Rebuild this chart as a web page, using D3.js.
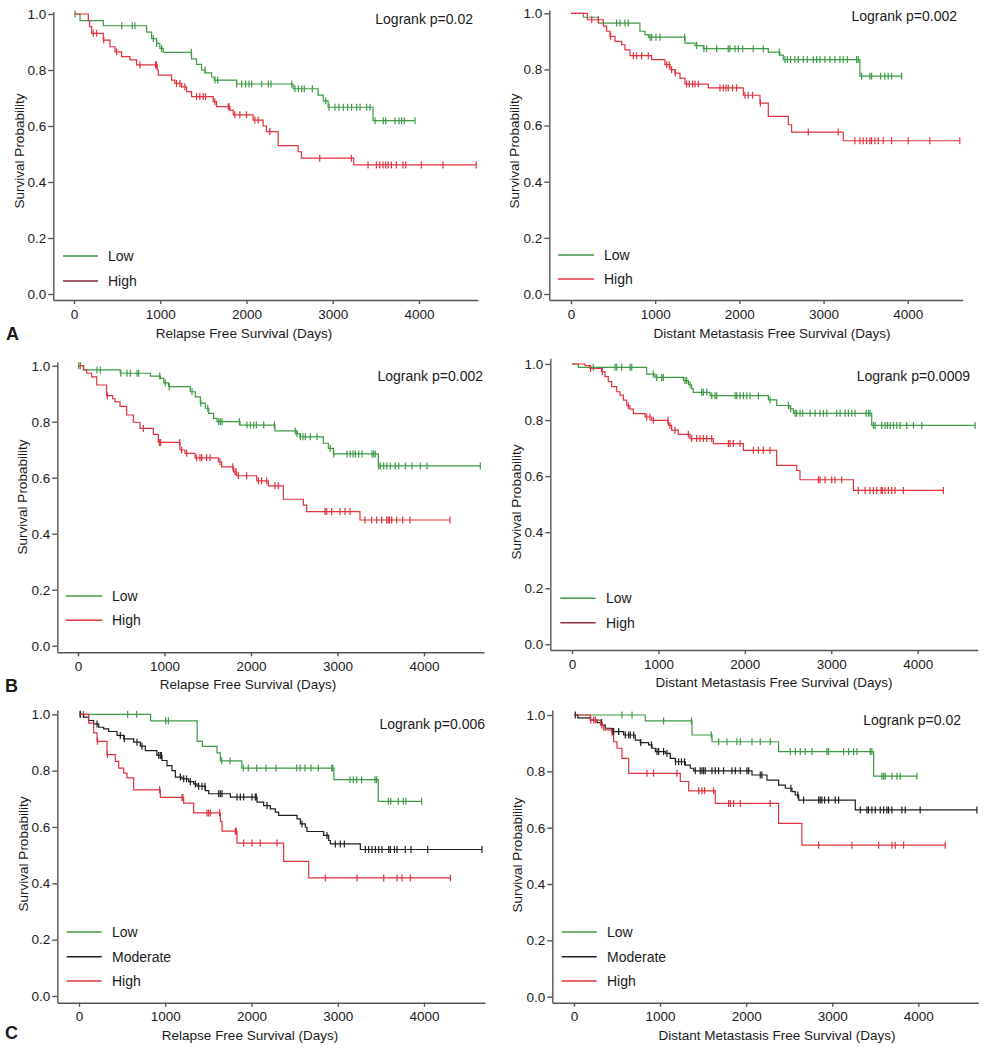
<!DOCTYPE html>
<html>
<head>
<meta charset="utf-8">
<script src="https://cdn.jsdelivr.net/npm/d3@7"></script>
<style>
  body { margin: 0; background: #fff; }
  svg text { font-family: "Liberation Sans", Arial, sans-serif; fill: #1a1a1a; }
  .axis path, .axis line { stroke: #555; stroke-width: 1.4px; }
  .axis text { font-size: 13.5px; fill: #1a1a1a; }
</style>
</head>
<body>
<svg id="fig" width="988" height="1050"></svg>
<script>
// ---- data: step = [day, survival after the event], censored = days ----
const dayTicks = [0, 1000, 2000, 3000, 4000];
const probTicks = [0, 0.2, 0.4, 0.6, 0.8, 1.0];

// A, relapse free survival
const rfsA_lowSteps = [[70,0.976],[340,0.958],[842,0.935],[900,0.912],[957,0.895],[995,0.877],[1035,0.863],[1363,0.84],[1420,0.82],[1479,0.8],[1520,0.79],[1595,0.775],[1625,0.764],[1884,0.75],[2541,0.733],[2830,0.71],[2890,0.69],[2946,0.667],[3467,0.619]];
const rfsA_lowCens = [12,553,676,707,920,958,1016,1360,1519,1635,1666,1886,1944,1990,2029,2060,2176,2253,2284,2524,2562,2601,2640,2670,2763,2918,2957,3026,3072,3123,3173,3219,3277,3316,3393,3432,3490,3586,3614,3722,3768,3799,3830,3954];
const rfsA_highSteps = [[166,0.976],[180,0.955],[205,0.931],[340,0.907],[417,0.883],[475,0.865],[552,0.848],[649,0.836],[726,0.818],[965,0.8],[977,0.782],[1131,0.764],[1170,0.752],[1247,0.74],[1305,0.723],[1363,0.705],[1614,0.687],[1653,0.669],[1807,0.657],[1846,0.64],[2077,0.621],[2193,0.6],[2232,0.58],[2367,0.53],[2598,0.508],[2637,0.485],[3243,0.461]];
const rfsA_highCens = [224,263,345,494,764,945,958,1189,1228,1286,1421,1459,1498,1525,1633,1788,1800,1865,1923,2000,2097,2135,2270,2849,3216,3409,3506,3544,3583,3614,3641,3680,3737,3815,3846,4027,4278,4664];

// A, distant metastasis free survival
const dmfsA_lowSteps = [[146,0.986],[325,0.965],[819,0.936],[879,0.924],[918,0.915],[1354,0.894],[1473,0.885],[1572,0.874],[2344,0.862],[2482,0.851],[2522,0.835],[3432,0.776]];
const dmfsA_lowCens = [542,582,641,681,938,958,1009,1057,1350,1493,1580,1612,1730,1868,1888,1948,1987,2039,2165,2284,2474,2542,2570,2609,2660,2700,2759,2807,2878,2918,2957,3017,3076,3135,3195,3234,3282,3393,3412,3452,3551,3571,3678,3729,3768,3808,3927];
const dmfsA_highSteps = [[194,0.977],[384,0.954],[423,0.936],[463,0.918],[523,0.9],[602,0.888],[641,0.87],[701,0.849],[958,0.835],[1116,0.817],[1176,0.799],[1235,0.787],[1295,0.769],[1354,0.748],[1631,0.734],[2047,0.708],[2245,0.68],[2344,0.633],[2582,0.603],[2621,0.577],[3234,0.546]];
const dmfsA_highCens = [246,325,470,740,780,839,918,1136,1168,1195,1240,1373,1405,1445,1473,1512,1770,1809,1841,1868,1920,1967,2066,2106,2157,2250,2819,3175,3373,3432,3472,3511,3551,3571,3610,3650,3709,3808,4006,4263,4619];

// B, relapse free survival
const rfsB_lowSteps = [[66,0.985],[489,0.973],[836,0.963],[952,0.955],[991,0.939],[1048,0.925],[1298,0.907],[1356,0.889],[1414,0.866],[1472,0.848],[1511,0.83],[1568,0.812],[1607,0.8],[1873,0.788],[2277,0.767],[2528,0.757],[2566,0.746],[2836,0.723],[2894,0.705],[2952,0.685],[3472,0.642]];
const rfsB_lowCens = [8,27,220,258,495,566,605,682,701,945,1009,1055,1318,1420,1500,1626,1645,1665,1865,1954,1992,2031,2062,2147,2270,2512,2532,2570,2601,2628,2686,2763,2917,2956,3110,3148,3179,3206,3245,3283,3399,3418,3437,3476,3495,3534,3570,3611,3668,3707,3784,3861,3958,4035,4651];
const rfsB_highSteps = [[62,0.985],[100,0.973],[158,0.96],[216,0.931],[331,0.893],[400,0.882],[428,0.871],[486,0.855],[563,0.824],[640,0.798],[717,0.776],[871,0.755],[929,0.726],[1179,0.699],[1237,0.687],[1353,0.671],[1622,0.657],[1661,0.639],[1796,0.621],[1834,0.607],[2066,0.589],[2200,0.571],[2374,0.523],[2605,0.502],[2644,0.479],[3260,0.449]];
const rfsB_highCens = [339,755,940,956,1175,1198,1256,1372,1410,1430,1487,1526,1642,1790,1815,1827,1854,1950,2085,2123,2181,2277,2316,2856,2875,2933,3029,3087,3145,3318,3395,3453,3511,3568,3588,3599,3626,3684,3753,3838,4301];

// B, distant metastasis free survival
const dmfsB_lowSteps = [[73,0.988],[864,0.964],[961,0.952],[1289,0.941],[1347,0.926],[1385,0.911],[1404,0.899],[1597,0.887],[2272,0.872],[2369,0.852],[2523,0.84],[2562,0.824],[3468,0.781]];
const dmfsB_lowCens = [247,498,517,575,671,691,941,980,1038,1057,1308,1327,1366,1501,1520,1559,1617,1655,1674,1887,1906,1944,1983,2022,2060,2157,2292,2504,2530,2581,2600,2639,2670,2755,2813,2870,2909,2948,3063,3102,3160,3198,3237,3275,3403,3430,3449,3488,3507,3584,3623,3650,3681,3720,3758,3796,3873,3951,4047,4664];
const dmfsB_highSteps = [[150,0.994],[208,0.984],[343,0.973],[382,0.955],[420,0.937],[459,0.919],[517,0.901],[555,0.889],[594,0.871],[633,0.851],[671,0.839],[710,0.823],[845,0.811],[922,0.799],[1115,0.781],[1153,0.764],[1230,0.749],[1365,0.734],[1635,0.716],[1983,0.692],[2368,0.638],[2600,0.62],[2638,0.587],[3256,0.549]];
const dmfsB_highCens = [215,350,652,864,903,941,1110,1134,1192,1346,1385,1443,1481,1520,1558,1616,1809,1828,1867,1944,2098,2156,2214,2291,2851,2870,2928,3005,3043,3120,3313,3391,3448,3487,3526,3576,3591,3622,3661,3699,3738,3834,4297];

// C, relapse free survival
const rfsC_lowSteps = [[830,0.977],[1370,0.904],[1430,0.886],[1600,0.863],[1638,0.835],[1888,0.809],[2955,0.768],[3470,0.691]];
const rfsC_lowCens = [12,50,564,669,1005,1036,1654,1751,1905,1963,2060,2168,2284,2524,2562,2620,2690,2775,2930,2942,3142,3181,3219,3277,3432,3451,3586,3614,3702,3760,3791,3973];
const rfsC_modSteps = [[54,0.99],[112,0.978],[170,0.966],[228,0.954],[286,0.948],[344,0.939],[441,0.925],[518,0.913],[634,0.901],[711,0.887],[769,0.871],[904,0.854],[962,0.836],[1020,0.818],[1078,0.8],[1117,0.777],[1194,0.771],[1271,0.761],[1329,0.753],[1368,0.745],[1465,0.729],[1504,0.718],[1755,0.706],[2064,0.688],[2141,0.676],[2218,0.664],[2276,0.653],[2315,0.641],[2528,0.629],[2566,0.611],[2624,0.599],[2643,0.584],[2837,0.57],[2895,0.552],[2914,0.54],[3262,0.52]];
const rfsC_modCens = [15,209,479,525,672,730,924,943,955,1175,1214,1247,1291,1349,1387,1426,1460,1619,1638,1658,1832,1870,1909,2006,2044,2055,2180,2585,2875,2972,3030,3076,3320,3359,3397,3436,3475,3513,3591,3610,3657,3687,3783,3849,4043,4672];
const rfsC_highSteps = [[112,0.969],[170,0.934],[209,0.904],[325,0.857],[421,0.833],[460,0.809],[518,0.791],[557,0.774],[634,0.732],[943,0.705],[1213,0.685],[1329,0.65],[1639,0.62],[1658,0.585],[1832,0.543],[2373,0.478],[2663,0.419]];
const rfsC_highCens = [215,330,935,1194,1205,1484,1503,1523,1630,1813,1825,1909,2006,2102,2296,2856,3223,3533,3687,3745,3842,4306];

// C, distant metastasis free survival
const dmfsC_lowSteps = [[828,0.979],[1371,0.929],[1603,0.905],[2377,0.87],[3481,0.783]];
const dmfsC_lowCens = [557,674,1041,1365,1595,1680,1777,1893,1932,2068,2164,2280,2513,2571,2629,2687,2764,2938,2958,3132,3190,3248,3287,3442,3461,3577,3597,3616,3693,3752,3790,3984];
const dmfsC_modSteps = [[44,0.99],[190,0.982],[267,0.973],[325,0.964],[364,0.953],[441,0.941],[577,0.929],[712,0.911],[770,0.902],[867,0.894],[906,0.882],[945,0.87],[1061,0.864],[1119,0.846],[1177,0.834],[1293,0.822],[1351,0.811],[1390,0.802],[2068,0.787],[2242,0.769],[2377,0.751],[2455,0.74],[2532,0.728],[2570,0.716],[2610,0.698],[3268,0.663]];
const dmfsC_modCens = [15,320,450,460,519,596,635,654,693,775,900,964,983,1041,1080,1180,1215,1249,1285,1409,1467,1487,1506,1525,1603,1641,1680,1738,1835,1874,1932,2009,2029,2164,2183,2520,2600,2667,2842,2861,2880,2911,2958,3035,3074,3326,3403,3422,3461,3500,3558,3597,3635,3655,3693,3810,3848,4022,4681];
const dmfsC_highSteps = [[190,0.982],[306,0.964],[345,0.947],[441,0.929],[460,0.905],[499,0.882],[557,0.846],[635,0.793],[1235,0.764],[1332,0.731],[1641,0.686],[2377,0.615],[2648,0.538]];
const dmfsC_highCens = [195,229,248,325,848,925,1196,1448,1487,1518,1622,1796,1816,1855,1932,2280,2842,3229,3539,3693,3732,3829,4313];

const pValues = ['Logrank p=0.02', 'Logrank p=0.002', 'Logrank p=0.002', 'Logrank p=0.0009', 'Logrank p=0.006', 'Logrank p=0.02'];
const rfsTitle = 'Relapse Free Survival (Days)';
const dmfsTitle = 'Distant Metastasis Free Survival (Days)';

const groupColor = { Low: '#3e9a45', Moderate: '#1e1e1e', High: '#e1323d' };
const darkHigh = '#8b2f42';

// ---- layout of the six panels (pixels) ----
const panels = [
  { left: 53.3, right: 478, top: 11.5, bottom: 300, x0: 74, x4000: 419, yZero: 294, yOne: 14,
    title: rfsTitle, titleX: 244, titleY: 338, yTitleX: 19, yTitleY: 151, pRight: 473, pY: 24,
    legX: [63, 98], legText: 108, legY: [256, 281], highLegend: darkHigh,
    curves: [['Low', rfsA_lowSteps, rfsA_lowCens], ['High', rfsA_highSteps, rfsA_highCens]] },
  { left: 549.3, right: 962.7, top: 10, bottom: 300, x0: 571, x4000: 907.7, yZero: 294, yOne: 13.3,
    title: dmfsTitle, titleX: 772, titleY: 338, yTitleX: 514, yTitleY: 151, pRight: 957, pY: 21,
    legX: [558, 594], legText: 604, legY: [255, 279], highLegend: null,
    curves: [['Low', dmfsA_lowSteps, dmfsA_lowCens], ['High', dmfsA_highSteps, dmfsA_highCens]] },
  { left: 57.3, right: 484, top: 361.7, bottom: 652.3, x0: 78, x4000: 424, yZero: 645.7, yOne: 365.7,
    title: rfsTitle, titleX: 248, titleY: 689, yTitleX: 22, yTitleY: 497, pRight: 483, pY: 381,
    legX: [65.7, 102.3], legText: 112, legY: [596, 620.3], highLegend: null,
    curves: [['Low', rfsB_lowSteps, rfsB_lowCens], ['High', rfsB_highSteps, rfsB_highCens]] },
  { left: 550.3, right: 977.7, top: 358.3, bottom: 650, x0: 572, x4000: 917.7, yZero: 644.3, yOne: 364,
    title: dmfsTitle, titleX: 774, titleY: 687, yTitleX: 516, yTitleY: 502, pRight: 970, pY: 381,
    legX: [560.3, 595.7], legText: 606, legY: [598.3, 622.7], highLegend: darkHigh,
    curves: [['Low', dmfsB_lowSteps, dmfsB_lowCens], ['High', dmfsB_highSteps, dmfsB_highCens]] },
  { left: 57.3, right: 485, top: 710, bottom: 1002.7, x0: 79, x4000: 424, yZero: 996, yOne: 714.3,
    title: rfsTitle, titleX: 250, titleY: 1040, yTitleX: 23, yTitleY: 854, pRight: 485, pY: 728.5,
    legX: [66.7, 101.7], legText: 112, legY: [932, 956.7, 981], highLegend: null,
    curves: [['Low', rfsC_lowSteps, rfsC_lowCens], ['Moderate', rfsC_modSteps, rfsC_modCens], ['High', rfsC_highSteps, rfsC_highCens]] },
  { left: 552.3, right: 978.3, top: 710, bottom: 1002.7, x0: 574, x4000: 918.3, yZero: 996.7, yOne: 715,
    title: dmfsTitle, titleX: 777, titleY: 1039.5, yTitleX: 517, yTitleY: 855, pRight: 961, pY: 724.5,
    legX: [561.7, 596.7], legText: 607, legY: [932, 956.7, 981], highLegend: null,
    curves: [['Low', dmfsC_lowSteps, dmfsC_lowCens], ['Moderate', dmfsC_modSteps, dmfsC_modCens], ['High', dmfsC_highSteps, dmfsC_highCens]] }
];

const panelLetters = [['A', 6, 340], ['B', 5, 692], ['C', 5, 1039]];

const svg = d3.select('#fig');

function survivalAt(steps, t) {
  let s = 1;
  for (const [d, v] of steps) { if (d <= t) s = v; else break; }
  return s;
}

panels.forEach((p, i) => {
  const g = svg.append('g');

  // scales fixed by tick positions, then stretched to the axis box
  const xBase = d3.scaleLinear().domain([0, 4000]).range([p.x0, p.x4000]);
  const x = d3.scaleLinear().domain([xBase.invert(p.left), xBase.invert(p.right)]).range([p.left, p.right]);
  const yBase = d3.scaleLinear().domain([0, 1]).range([p.yZero, p.yOne]);
  const y = d3.scaleLinear().domain([yBase.invert(p.bottom), yBase.invert(p.top)]).range([p.bottom, p.top]);

  g.append('g').attr('class', 'axis')
    .attr('transform', `translate(0,${p.bottom})`)
    .call(d3.axisBottom(x).tickValues(dayTicks).tickFormat(d3.format('d')).tickSize(4).tickSizeOuter(0).tickPadding(5));

  g.append('g').attr('class', 'axis')
    .attr('transform', `translate(${p.left},0)`)
    .call(d3.axisLeft(y).tickValues(probTicks).tickFormat(d3.format('.1f')).tickSize(5).tickSizeOuter(0).tickPadding(2));

  g.selectAll('.axis text').attr('font-size', 13.5);

  g.append('text')
    .attr('x', p.titleX).attr('y', p.titleY)
    .attr('text-anchor', 'middle').attr('font-size', 13.5)
    .text(p.title);

  g.append('text')
    .attr('transform', `translate(${p.yTitleX},${p.yTitleY}) rotate(-90)`)
    .attr('text-anchor', 'middle').attr('dominant-baseline', 'central').attr('font-size', 13.5)
    .text('Survival Probability');

  g.append('text')
    .attr('x', p.pRight).attr('y', p.pY)
    .attr('text-anchor', 'end').attr('font-size', 14)
    .text(pValues[i]);

  const line = d3.line().x(d => x(d[0])).y(d => y(d[1])).curve(d3.curveStepAfter);

  p.curves.forEach(([group, steps, cens]) => {
    const color = groupColor[group];
    const end = Math.max(d3.max(cens), steps[steps.length - 1][0]);
    const pts = [[0, 1], ...steps, [end, steps[steps.length - 1][1]]];

    g.append('path')
      .attr('d', line(pts))
      .attr('fill', 'none')
      .attr('stroke', color)
      .attr('stroke-width', 1.2);

    g.append('g').selectAll('line')
      .data(cens)
      .join('line')
      .attr('x1', d => x(d)).attr('x2', d => x(d))
      .attr('y1', d => y(survivalAt(steps, d)) - 3.5)
      .attr('y2', d => y(survivalAt(steps, d)) + 3.5)
      .attr('stroke', color)
      .attr('stroke-width', 1.2);
  });

  // legend
  p.curves.forEach(([group], k) => {
    const c = (group === 'High' && p.highLegend) ? p.highLegend : groupColor[group];
    g.append('line')
      .attr('x1', p.legX[0]).attr('x2', p.legX[1])
      .attr('y1', p.legY[k]).attr('y2', p.legY[k])
      .attr('stroke', c).attr('stroke-width', 1.4);
    g.append('text')
      .attr('x', p.legText).attr('y', p.legY[k])
      .attr('dominant-baseline', 'central').attr('font-size', 14)
      .text(group);
  });
});

svg.selectAll('.letter')
  .data(panelLetters)
  .join('text')
  .attr('class', 'letter')
  .attr('x', d => d[1]).attr('y', d => d[2])
  .attr('font-size', 18).attr('font-weight', 'bold')
  .text(d => d[0]);
</script>
</body>
</html>
